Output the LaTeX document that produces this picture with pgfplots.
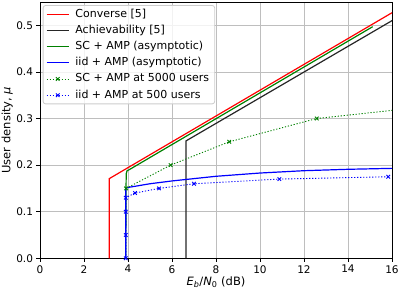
\documentclass[border=0pt]{standalone}
\usepackage{fontspec}
\setmainfont{DejaVu Sans}
\usepackage{pgfplots}
\pgfplotsset{compat=1.18}
\definecolor{gridc}{HTML}{BEBEBE}
\definecolor{mplgreen}{rgb}{0,0.5,0}
\definecolor{legedge}{HTML}{CCCCCC}
\begin{document}
\begin{tikzpicture}
\begin{axis}[
  at={(0,0)}, anchor=south west,
  scale only axis, width=352pt, height=256.3pt,
  xmin=0, xmax=16, ymin=0, ymax=0.55,
  xtick={0,2,4,6,8,10,12,14,16},
  ytick={0,0.1,0.2,0.3,0.4,0.5},
  yticklabel style={/pgf/number format/.cd, fixed, fixed zerofill, precision=1},
  /pgf/number format/assume math mode=true,
  tick label style={font=\fontsize{10.5}{12}\selectfont},
  tick align=outside, tick pos=left, major tick length=3.5pt,
  every tick/.style={black, line width=0.8pt},
  grid=major, grid style={gridc, line width=0.7pt},
  axis line style={line width=0.8pt},
  label style={font=\fontsize{11.5}{13}\selectfont},
  xlabel={\textit{E}\textsubscript{\textit{b}}/\textit{N}\textsubscript{0} (dB)},
  ylabel={User density, \textit{μ}},
  xlabel style={at={(axis description cs:0.5,0)}, anchor=base, yshift=-27.4pt},
  ylabel style={at={(axis description cs:-0.0929,0.5)}, anchor=center},
  legend image code/.code={\draw[mark repeat=2,mark phase=2,#1] plot coordinates {(0pt,0pt) (11pt,0pt) (22pt,0pt)};},
  legend cell align=left,
  legend style={at={(axis description cs:0.0077,0.988)}, anchor=north west,
    draw=legedge, line width=0.8pt, rounded corners=2.5pt, fill=white, fill opacity=0.8, text opacity=1, draw opacity=1,
    font=\fontsize{11}{13}\selectfont,
    inner xsep=3pt, inner ysep=1.2pt, row sep=1.2pt,
    nodes={inner xsep=2.5pt, inner ysep=2pt, text height=8.5pt, text depth=2.5pt},
    /tikz/every odd column/.append style={column sep=3.6pt}},
]
\addplot[red, line width=1.2pt] coordinates {(3.15,0) (3.15,0.171) (16,0.527)};
\addlegendentry{Converse [5]}
\addplot[black!85, line width=1.2pt] coordinates {(6.64,0) (6.64,0.252) (16,0.510)};
\addlegendentry{Achievability [5]}
\addplot[mplgreen, line width=1.2pt] coordinates {(3.9,0) (3.91,0.15) (3.92,0.182) (3.96,0.188) (4.05,0.190) (15.12,0.497)};
\addlegendentry{SC + AMP (asymptotic)}
\addplot[blue, line width=1.2pt] coordinates {(3.9,0) (3.9,0.15) (4.0,0.152) (4.5,0.156) (5,0.160) (6,0.166) (7,0.171) (8,0.176) (10,0.183) (12,0.188) (14,0.191) (16,0.193)};
\addlegendentry{iid + AMP (asymptotic)}
\addplot[mplgreen, line width=0.9pt, dash pattern=on 1.2pt off 1.8pt, mark=x, mark size=2.5pt, mark options={solid, line width=0.9pt}] coordinates {(3.91,0.15) (5.94,0.2) (8.6,0.25) (12.58,0.3) (22.4,0.35)};
\addlegendentry{SC + AMP at 5000 users}
\addplot[blue, line width=0.9pt, dash pattern=on 1.2pt off 1.8pt, mark=x, mark size=2.5pt, mark options={solid, line width=0.9pt}] coordinates {(3.9,0.0) (3.9,0.05) (3.9,0.1) (3.9,0.13) (4.32,0.14) (5.41,0.15) (7.0,0.16) (10.88,0.17) (15.83,0.175)};
\addlegendentry{iid + AMP at 500 users}
\end{axis}
\pgfresetboundingbox
\path[use as bounding box] (-40pt,-31.7pt) rectangle (359pt,258.3pt);
\end{tikzpicture}
\end{document}
